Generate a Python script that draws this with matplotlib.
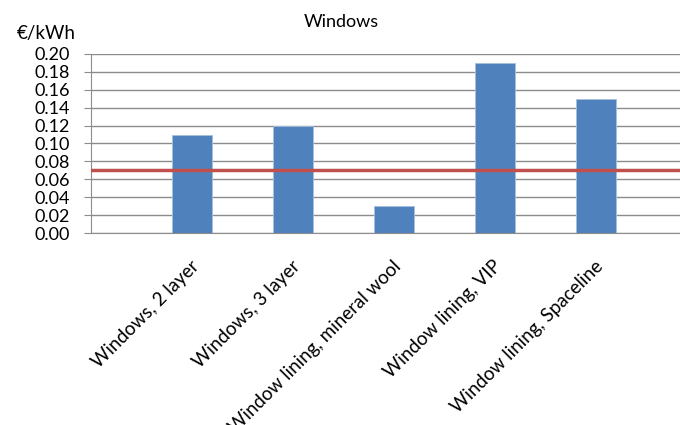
import numpy as np
import matplotlib.pyplot as plt
from matplotlib.transforms import ScaledTranslation

categorias = ["Windows, 2 layer", "Windows, 3 layer", "Window lining, mineral wool",
              "Window lining, VIP", "Window lining, Spaceline"]
costes = [0.11, 0.12, 0.03, 0.19, 0.15]
referencia = 0.07
yticks = [0.00, 0.02, 0.04, 0.06, 0.08, 0.10, 0.12, 0.14, 0.16, 0.18, 0.20]

plt.rcParams['font.family'] = ['Lato', 'DejaVu Sans']

fig = plt.figure(figsize=(6.8, 4.25), dpi=100)
ax = fig.add_axes([91/680, 1-233/425, 1-91/680, (233-54)/425])

x = np.arange(1, len(categorias)+1)
ax.bar(x, costes, width=0.4, color="#4F81BD", edgecolor="#A7C0DE", linewidth=0.6, zorder=2)
ax.axhline(referencia, color="#C0504D", linewidth=2.5, zorder=3)

ax.set_xlim(0, (680-91)/101)
ax.set_ylim(0, 0.20)
ax.set_yticks(yticks)
ax.set_yticklabels([f"{v:.2f}" for v in yticks], fontsize=13)
ax.yaxis.grid(True, color="#8C8C8C", linewidth=1, zorder=0)
ax.set_axisbelow(True)

ax.set_xticks(x)
ax.set_xticklabels(categorias, rotation=45, ha="right", va="center", rotation_mode="anchor", fontsize=13.5)
ax.tick_params(axis="x", length=0, pad=22)
ax.tick_params(axis="y", length=5, color="#8C8C8C", pad=10)
# mover las etiquetas un poco a la derecha como en Excel
desplaza = ScaledTranslation(4/100, 0, fig.dpi_scale_trans)
for lab in ax.get_xticklabels():
    lab.set_transform(lab.get_transform() + desplaza)

for s in ["top", "right"]:
    ax.spines[s].set_visible(False)
ax.spines["left"].set_color("#8C8C8C")
ax.spines["bottom"].set_color("#8C8C8C")

fig.text(341/680, 1-22/425, "Windows", ha="center", va="center", fontsize=13)
fig.text(17/680, 1-33/425, "€/kWh", ha="left", va="center", fontsize=13.5)

plt.savefig("out.png", dpi=100)
